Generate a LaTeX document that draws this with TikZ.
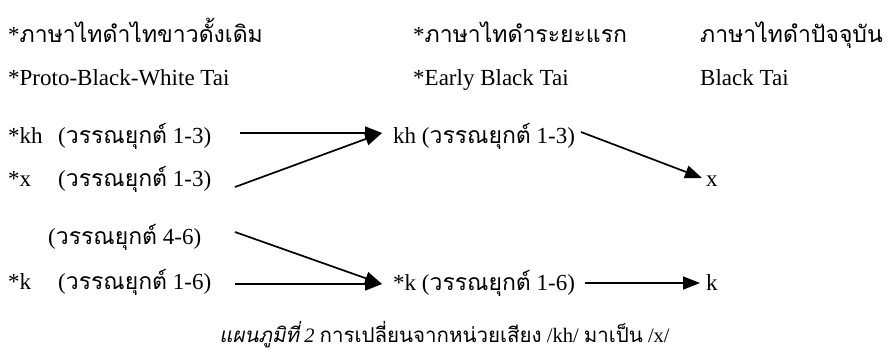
\documentclass[tikz,border=0pt]{standalone}
\usepackage{fontspec}
\setmainfont{Liberation Serif}
\newfontfamily\thaifont[Script=Thai]{Loma}
\newfontfamily\thaiitfont[Script=Thai,FakeSlant=0.2]{Loma}
\newcommand\thtext[1]{{\thaifont #1}}
\usetikzlibrary{arrows.meta}
\begin{document}
\begin{tikzpicture}[x=1pt,y=-1pt,
  txt/.style={anchor=base west, inner sep=0pt, font=\fontsize{23}{26}\selectfont},
  captext/.style={anchor=base, inner sep=0pt, font=\fontsize{20.5}{24}\selectfont},
  arr/.style={line width=1.7pt, -{Triangle[length=17pt,width=13pt]}}]
\useasboundingbox (0,0) rectangle (893,356);
% headers
\node[txt] (h1) at (8,42) {*\thtext{ภาษาไทดำไทขาวดั้งเดิม}};
\node[txt] (h2) at (413,42) {*\thtext{ภาษาไทดำระยะแรก}};
\node[txt] (h3) at (700,42) {\thtext{ภาษาไทดำปัจจุบัน}};
\node[txt] (e1) at (8,85) {*Proto-Black-White Tai};
\node[txt] (e2) at (413,85) {*Early Black Tai};
\node[txt] (e3) at (700,85) {Black Tai};
% left column
\node[txt] (kh) at (8,143) {*kh};
\node[txt] (khT) at (58,143) {(\thtext{วรรณยุกต์} 1-3)};
\node[txt] (x) at (8,186) {*x};
\node[txt] (xT) at (58,186) {(\thtext{วรรณยุกต์} 1-3)};
\node[txt] (kT46) at (48,244) {(\thtext{วรรณยุกต์} 4-6)};
\node[txt] (k) at (8,289) {*k};
\node[txt] (kT) at (58,289) {(\thtext{วรรณยุกต์} 1-6)};
% middle column
\node[txt] (ekh) at (393,143) {kh (\thtext{วรรณยุกต์} 1-3)};
\node[txt] (ek) at (393,290) {*k (\thtext{วรรณยุกต์} 1-6)};
% right column
\node[txt] (fx) at (706,186) {x};
\node[txt] (fk) at (706,290) {k};
% caption
\node[captext] (caption) at (444.5,342) {{\thaiitfont แผนภูมิที่} \textit{2} \thtext{การเปลี่ยนจากหน่วยเสียง} /kh/ \thtext{มาเป็น} /x/};
% arrow end points
\coordinate (s1) at (240,133);
\coordinate (s2) at (235,187);
\coordinate (t1) at (382,133);
\coordinate (s3) at (581,132);
\coordinate (t3) at (702,178);
\coordinate (s4) at (235,232);
\coordinate (s5) at (235,284);
\coordinate (t4) at (382,284);
\coordinate (s6) at (585,283);
\coordinate (t6) at (700,283);
\draw[arr] (s1) -- (t1);
\draw[arr] (s2) -- (t1);
\draw[arr] (s3) -- (t3);
\draw[arr] (s4) -- (t4);
\draw[arr] (s5) -- (t4);
\draw[arr] (s6) -- (t6);
\end{tikzpicture}
\end{document}
